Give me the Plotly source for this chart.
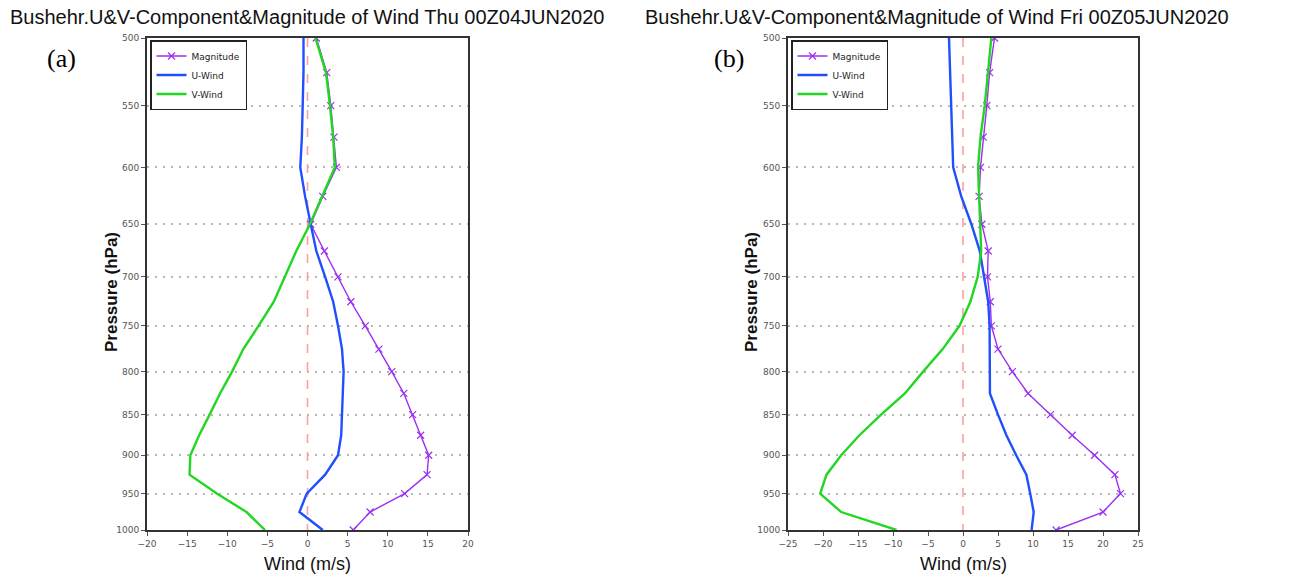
import plotly.graph_objects as go

W, H = 1299, 577

# Pressure levels (hPa), every 25 hPa from 500 to 1000
levels = [500, 525, 550, 575, 600, 625, 650, 675, 700, 725, 750,
          775, 800, 825, 850, 875, 900, 925, 950, 975, 1000]

# Thu 00Z04JUN2020 profile (m/s)
mag_a = [1.1, 2.4, 2.9, 3.3, 3.6, 1.9, 0.4, 2.1, 3.8, 5.4, 7.2,
         8.9, 10.5, 12.0, 13.1, 14.1, 15.1, 14.9, 12.1, 7.8, 5.7]
u_a = [-0.5, -0.5, -0.6, -0.7, -0.9, -0.3, 0.4, 1.1, 2.2, 3.2, 3.8,
       4.3, 4.5, 4.4, 4.3, 4.2, 3.8, 2.2, -0.1, -1.0, 1.9]
v_a = [1.0, 2.3, 2.8, 3.2, 3.4, 1.8, 0.3, -1.4, -2.8, -4.2, -6.1,
       -8.0, -9.4, -10.9, -12.2, -13.5, -14.6, -14.7, -11.3, -7.6, -5.3]

# Fri 00Z05JUN2020 profile (m/s)
mag_b = [4.5, 3.8, 3.4, 2.9, 2.5, 2.3, 2.7, 3.6, 3.5, 3.9, 4.05,
         5.0, 7.05, 9.3, 12.5, 15.6, 18.8, 21.7, 22.5, 20.0, 13.3]
u_b = [-2.0, -1.85, -1.7, -1.6, -1.4, -0.25, 1.2, 2.4, 3.0, 3.6, 3.8,
       3.8, 3.8, 3.85, 5.0, 6.2, 7.6, 9.05, 9.6, 10.1, 9.8]
v_b = [4.05, 3.6, 3.1, 2.5, 2.15, 2.3, 2.5, 2.6, 2.1, 1.05, -0.5,
       -2.9, -5.7, -8.3, -11.7, -14.8, -17.4, -19.5, -20.4, -17.4, -9.5]

titles = ["Bushehr.U&V-Component&Magnitude of Wind Thu 00Z04JUN2020",
          "Bushehr.U&V-Component&Magnitude of Wind Fri 00Z05JUN2020"]
panel_tags = ["(a)", "(b)"]
x_ranges = [[-20, 20], [-25, 25]]
pressure_ticks = [500, 550, 600, 650, 700, 750, 800, 850, 900, 950, 1000]

MAG_COLOR = "#9b30f0"
U_COLOR = "#1f4fff"
V_COLOR = "#22d622"
SANS = "DejaVu Sans, sans-serif"
NARROW = "Liberation Sans, Arial, sans-serif"


def px_x(p):
    """Page x pixel -> paper fraction."""
    return p / W


def px_y(p):
    """Page y pixel (from top) -> paper fraction."""
    return 1 - p / H


# plot-area boxes in page pixels: (left, right)
boxes = [(147, 468), (788, 1138)]
top_px, bot_px = 38, 530

fig = go.Figure()

panels = [(mag_a, u_a, v_a), (mag_b, u_b, v_b)]
for i, (mag, u, v) in enumerate(panels):
    xa = "x" if i == 0 else "x2"
    ya = "y" if i == 0 else "y2"
    lg = "legend" if i == 0 else "legend2"
    fig.add_trace(go.Scatter(
        x=mag, y=levels, xaxis=xa, yaxis=ya, legend=lg, name="Magnitude",
        mode="lines+markers",
        line=dict(color=MAG_COLOR, width=1.4),
        marker=dict(symbol="x-thin", size=7, line=dict(color=MAG_COLOR, width=1.2)),
    ))
    fig.add_trace(go.Scatter(
        x=u, y=levels, xaxis=xa, yaxis=ya, legend=lg, name="U-Wind",
        mode="lines", line=dict(color=U_COLOR, width=2.4),
    ))
    fig.add_trace(go.Scatter(
        x=v, y=levels, xaxis=xa, yaxis=ya, legend=lg, name="V-Wind",
        mode="lines", line=dict(color=V_COLOR, width=2.4),
    ))

axis_common = dict(
    showgrid=False, zeroline=False, automargin=False,
    ticks="outside", ticklen=4, tickcolor="#555",
    tickfont=dict(family=SANS, size=9, color="#555"),
    showline=True, linecolor="#333", linewidth=2, mirror=True,
)

shapes = []
annotations = []
layout_axes = {}
for i in range(2):
    left, right = boxes[i]
    sfx = "" if i == 0 else "2"
    layout_axes["xaxis" + sfx] = dict(
        axis_common,
        domain=[px_x(left), px_x(right)],
        range=x_ranges[i], dtick=5, tick0=0,
        anchor="y" + sfx,
    )
    layout_axes["yaxis" + sfx] = dict(
        axis_common,
        domain=[px_y(bot_px), px_y(top_px)],
        type="log", range=[3, 2.69897],
        tickvals=pressure_ticks, ticktext=[str(t) for t in pressure_ticks],
        showgrid=True, gridcolor="#b8b8b8", griddash="2px,6px", gridwidth=1.5,
        anchor="x" + sfx,
    )
    # zero reference line
    shapes.append(dict(
        type="line", xref="x" + sfx, yref="y" + sfx,
        x0=0, x1=0, y0=500, y1=1000,
        line=dict(color="#ff9f9f", width=1.6, dash="dash"),
        layer="below",
    ))
    cx = (left + right) / 2
    annotations.append(dict(
        text=titles[i], xref="paper", yref="paper",
        x=px_x(8 if i == 0 else 643), y=px_y(17),
        xanchor="left", yanchor="middle", showarrow=False,
        font=dict(family=NARROW, size=20, color="#111"),
    ))
    annotations.append(dict(
        text="Wind (m/s)", xref="paper", yref="paper",
        x=px_x(cx), y=px_y(564), xanchor="center", yanchor="middle",
        showarrow=False, font=dict(family=NARROW, size=18, color="#111"),
    ))
    annotations.append(dict(
        text="<b>Pressure (hPa)</b>", xref="paper", yref="paper",
        x=px_x(112 if i == 0 else 752), y=px_y(292),
        xanchor="center", yanchor="middle", textangle=-90,
        showarrow=False, font=dict(family=NARROW, size=17, color="#111"),
    ))
    annotations.append(dict(
        text=panel_tags[i], xref="paper", yref="paper",
        x=px_x(61 if i == 0 else 729), y=px_y(58),
        xanchor="center", yanchor="middle", showarrow=False,
        font=dict(family="Liberation Serif, Times New Roman, serif", size=26, color="#000"),
    ))

legend_common = dict(
    xanchor="left", yanchor="top",
    bgcolor="white", bordercolor="#222", borderwidth=1.5,
    font=dict(family=SANS, size=9, color="#222"),
    itemwidth=30, tracegroupgap=0,
)

fig.update_layout(
    width=W, height=H,
    margin=dict(l=0, r=0, t=0, b=0, autoexpand=False),
    paper_bgcolor="white", plot_bgcolor="white",
    showlegend=True,
    legend=dict(legend_common, x=px_x(150), y=px_y(40)),
    legend2=dict(legend_common, x=px_x(791), y=px_y(40)),
    shapes=shapes,
    annotations=annotations,
    **layout_axes,
)

fig.write_html("out.html")
